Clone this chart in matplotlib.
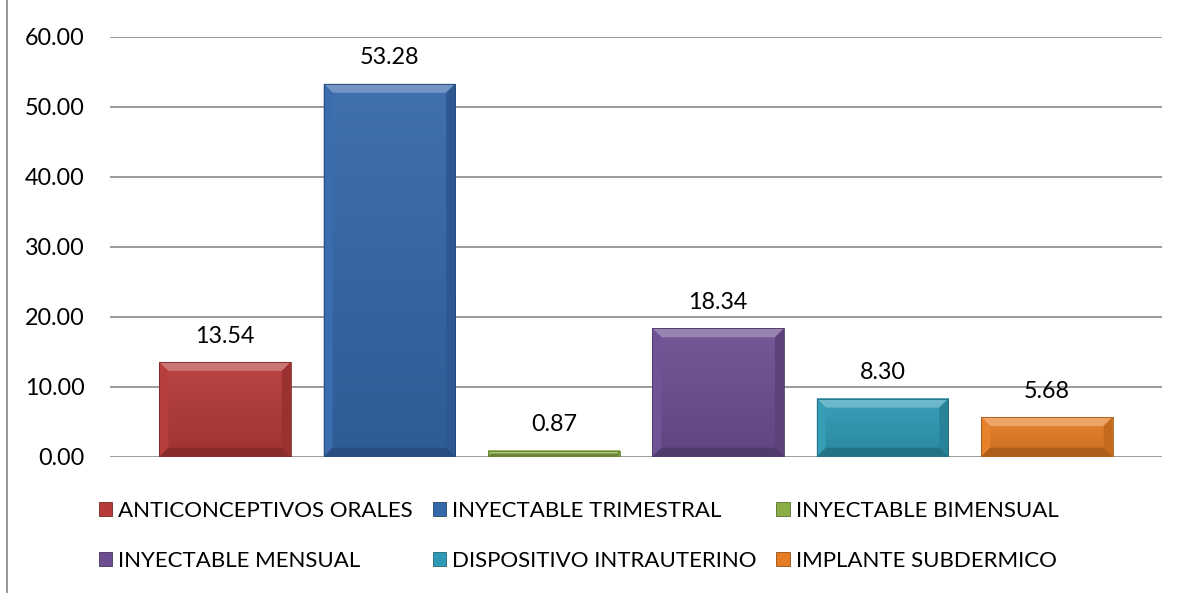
import matplotlib
matplotlib.use("Agg")
import matplotlib.pyplot as plt
import numpy as np
from matplotlib.patches import Polygon, Rectangle, Patch
from matplotlib.colors import to_rgb

categories = ["ANTICONCEPTIVOS ORALES", "INYECTABLE TRIMESTRAL", "INYECTABLE BIMENSUAL",
              "INYECTABLE MENSUAL", "DISPOSITIVO INTRAUTERINO", "IMPLANTE SUBDERMICO"]
values = [13.54, 53.28, 0.87, 18.34, 8.30, 5.68]
colors = ["#B53A38", "#3567AA", "#8AAE45", "#6C4E91", "#2F9AB4", "#E67D24"]
yticks = [0, 10, 20, 30, 40, 50, 60]

FONT = "Lato"
plt.rcParams['font.family'] = [FONT, 'DejaVu Sans']

W, H = 1182, 593
fig = plt.figure(figsize=(W / 100, H / 100), dpi=100)
ax = fig.add_axes([110 / W, 1 - 456.7 / H, (1162 - 110) / W, (456.7 - 36.7) / H])

x = np.arange(len(categories))
bars = ax.bar(x, values, width=0.80, color=colors, zorder=3)

ax.set_xlim(-0.70, 5.70)
ax.set_ylim(0, 60)
ax.set_yticks(yticks)
ax.set_yticklabels([f"{v:.2f}" for v in yticks], fontsize=16.8, color="#000000")
ax.set_xticks([])
ax.tick_params(axis='y', length=0, pad=18.2)
for s in ax.spines.values():
    s.set_visible(False)
ax.grid(axis='y', color='#8a8a8a', linewidth=1.2, zorder=0)
ax.set_axisbelow(True)


def mix(c, t, amt):
    c = np.array(to_rgb(c)); t = np.array(to_rgb(t))
    return tuple(c + (t - c) * amt)


# bevel decoration derived from each bar's geometry
px_x = 1.0 / 164.3
px_y = 60.0 / 420.0
for b, col in zip(bars, colors):
    x0, y0 = b.get_x(), b.get_y()
    x1, y1 = x0 + b.get_width(), y0 + b.get_height()
    b.set_visible(False)
    grad = np.linspace(0, 1, 64).reshape(-1, 1)
    top_c = np.array(mix(col, 'white', 0.06))
    bot_c = np.array(mix(col, 'black', 0.12))
    img = top_c[None, None, :] * (1 - grad[:, :, None]) + bot_c[None, None, :] * grad[:, :, None]
    ax.imshow(img, extent=[x0, x1, y0, y1], aspect='auto', origin='upper', zorder=3,
              interpolation='bilinear')
    bh = min(9 * px_y, (y1 - y0) / 2)
    bwx = bh / px_y * px_x
    polys = [
        ([(x0, y1), (x1, y1), (x1 - bwx, y1 - bh), (x0 + bwx, y1 - bh)], mix(col, 'white', 0.30)),
        ([(x0, y0), (x0, y1), (x0 + bwx, y1 - bh), (x0 + bwx, y0 + bh)], mix(col, 'white', 0.03)),
        ([(x1, y0), (x1, y1), (x1 - bwx, y1 - bh), (x1 - bwx, y0 + bh)], mix(col, 'black', 0.15)),
        ([(x0, y0), (x1, y0), (x1 - bwx, y0 + bh), (x0 + bwx, y0 + bh)], mix(col, 'black', 0.25)),
    ]
    for pts, c in polys:
        ax.add_patch(Polygon(pts, closed=True, facecolor=c, edgecolor='none', zorder=4))
    ax.add_patch(Rectangle((x0, y0), x1 - x0, y1 - y0, facecolor='none',
                           edgecolor=mix(col, 'black', 0.30), linewidth=0.6, zorder=5))

ax.set_xlim(-0.70, 5.70)
ax.set_ylim(0, 60)

ax.bar_label(bars, labels=[f"{v:.2f}" for v in values], padding=11, fontsize=16.8,
             color="#000000", zorder=6)
for t in ax.texts:
    t.set_visible(True)

# legend (row-major order)
handles = [Patch(facecolor=c, edgecolor=mix(c, 'black', 0.35), linewidth=0.6) for c in colors]
order = [0, 3, 1, 4, 2, 5]
leg = fig.legend([handles[i] for i in order], [categories[i] for i in order],
                 ncol=3, loc='upper left', bbox_to_anchor=(92 / W, 1 - 494 / H),
                 frameon=False, fontsize=16.0, handlelength=0.62, handleheight=0.62,
                 handletextpad=0.25, columnspacing=0.9, labelspacing=1.35,
                 borderaxespad=0, borderpad=0.3)

# outer chart border (only top/left visible in the reference)
fig.add_artist(Rectangle((7 / W, -0.2), 1.2, 1.2 + (1 - 7 / H),
                         transform=fig.transFigure, facecolor='none',
                         edgecolor='#868686', linewidth=1.2, clip_on=False))

fig.savefig("out.png", dpi=100)
